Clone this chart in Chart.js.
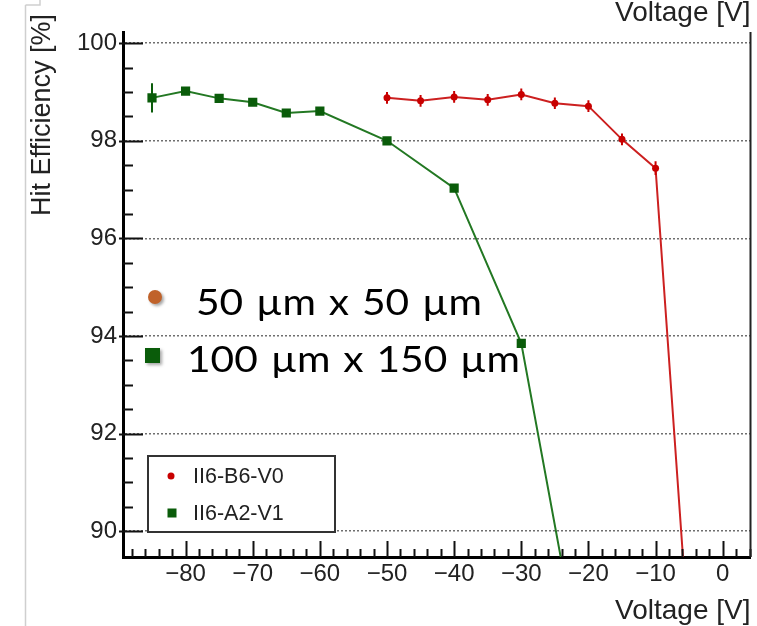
<!DOCTYPE html>
<html>
<head>
<meta charset="utf-8">
<title>Hit Efficiency vs Voltage</title>
<script src="https://cdn.jsdelivr.net/npm/chart.js@4.4.1/dist/chart.umd.min.js"></script>
<style>
    html, body { margin: 0; padding: 0; background: #fff; }
    #chart { display: block; }
</style>
</head>
<body>
<canvas id="chart" width="757" height="626"></canvas>
<script>
// Hit efficiency vs bias voltage, two sensors

const redVoltage = [-50, -45, -40, -35, -30, -25, -20, -15, -10, -5];
const redEfficiency = [98.88, 98.82, 98.90, 98.84, 98.95, 98.77, 98.71, 98.03, 97.44, 87.68];
const redError = [0.12, 0.12, 0.12, 0.12, 0.12, 0.12, 0.12, 0.12, 0.14, 0.12];

const greenVoltage = [-85, -80, -75, -70, -65, -60, -50, -40, -30, -20];
const greenEfficiency = [98.88, 99.02, 98.87, 98.79, 98.57, 98.61, 98.00, 97.03, 93.85, 86.39];
const greenError = [0.30, 0.05, 0.05, 0.05, 0.05, 0.05, 0.05, 0.08, 0.05, 0.05];

const xTicks = [-80, -70, -60, -50, -40, -30, -20, -10, 0];
const yTicks = [90, 92, 94, 96, 98, 100];

const legendLabels = ['II6-B6-V0', 'II6-A2-V1'];
const pitchLabels = ['50 µm x 50 µm', '100 µm x 150 µm'];
const xTitle = 'Voltage [V]';
const yTitle = 'Hit Efficiency [%]';

const RED = '#c80000';
const RED_LINE = '#cc2020';
const GREEN = '#0a5c0a';
const GREEN_LINE = '#237823';
const ORANGE = '#c0622a';
const TEXT = '#222';
const ROOT_FONT = '"Liberation Sans", Arial, Helvetica, sans-serif';

function toPoints(xs, ys) {
    return xs.map((x, i) => ({ x: x, y: ys[i] }));
}

function minusSign(v) {
    return String(v).replace('-', '\u2212');
}

// error bars, inner axis ticks, frame, legend box and the pasted pitch labels
const decorations = {
    id: 'decorations',
    beforeDraw(chart) {
        const ctx = chart.ctx;
        ctx.save();
        ctx.fillStyle = '#fff';
        ctx.fillRect(0, 0, chart.width, chart.height);
        // edge of the pasted image
        ctx.strokeStyle = '#cfcfcf';
        ctx.lineWidth = 1.5;
        ctx.beginPath();
        ctx.moveTo(25.5, 5);
        ctx.lineTo(25.5, chart.height);
        ctx.moveTo(25.5, 5);
        ctx.lineTo(40, 5);
        ctx.lineTo(40, 0);
        ctx.stroke();
        ctx.restore();
    },
    afterDatasetsDraw(chart) {
        const ctx = chart.ctx;
        const area = chart.chartArea;
        const xs = chart.scales.x, ys = chart.scales.y;
        ctx.save();
        ctx.beginPath();
        ctx.rect(area.left, area.top, area.right - area.left, area.bottom - area.top);
        ctx.clip();
        chart.data.datasets.forEach(ds => {
            ctx.strokeStyle = ds.pointBackgroundColor;
            ctx.lineWidth = 2;
            ds.data.forEach((p, i) => {
                const px = xs.getPixelForValue(p.x);
                ctx.beginPath();
                ctx.moveTo(px, ys.getPixelForValue(p.y - ds.errors[i]));
                ctx.lineTo(px, ys.getPixelForValue(p.y + ds.errors[i]));
                ctx.stroke();
            });
        });
        ctx.restore();
    },
    afterDraw(chart) {
        const ctx = chart.ctx;
        const area = chart.chartArea;
        const xs = chart.scales.x, ys = chart.scales.y;
        ctx.save();

        // ticks drawn inward, ROOT style
        ctx.strokeStyle = '#111';
        ctx.lineWidth = 2;
        ctx.beginPath();
        for (let v = 90; v <= 100; v += 0.5) {
            const py = Math.round(ys.getPixelForValue(v)) + 0.5;
            const major = yTicks.includes(v);
            ctx.moveTo(area.left - (major ? 4 : 0), py);
            ctx.lineTo(area.left + (major ? 20 : 10), py);
        }
        for (let v = -88; v <= 4; v += 2) {
            const px = Math.round(xs.getPixelForValue(v)) + 0.5;
            const len = xTicks.includes(v) ? 16 : 8;
            ctx.moveTo(px, area.bottom);
            ctx.lineTo(px, area.bottom - len);
        }
        ctx.stroke();

        // right side of the frame
        ctx.strokeStyle = '#222';
        ctx.beginPath();
        ctx.moveTo(area.right, area.top);
        ctx.lineTo(area.right, area.bottom);
        ctx.stroke();

        // y axis title
        ctx.save();
        ctx.translate(50, 216);
        ctx.rotate(-Math.PI / 2);
        ctx.font = '27px ' + ROOT_FONT;
        ctx.fillStyle = TEXT;
        ctx.textAlign = 'left';
        ctx.textBaseline = 'alphabetic';
        ctx.fillText(yTitle, 0, 0);
        ctx.restore();

        // legend box
        ctx.fillStyle = '#fff';
        ctx.fillRect(148, 456, 187, 76);
        ctx.strokeStyle = '#333';
        ctx.lineWidth = 2;
        ctx.strokeRect(148, 456, 187, 76);
        ctx.fillStyle = RED;
        ctx.beginPath();
        ctx.arc(171, 476, 3.5, 0, Math.PI * 2);
        ctx.fill();
        ctx.fillStyle = GREEN;
        ctx.fillRect(167.5, 508.5, 9, 9);
        ctx.font = '21.5px ' + ROOT_FONT;
        ctx.fillStyle = TEXT;
        ctx.textBaseline = 'middle';
        ctx.textAlign = 'left';
        ctx.fillText(legendLabels[0], 193, 477);
        ctx.fillText(legendLabels[1], 193, 514);

        // pitch labels pasted on top
        ctx.save();
        ctx.shadowColor = 'rgba(0,0,0,0.35)';
        ctx.shadowBlur = 3;
        ctx.shadowOffsetX = 2;
        ctx.shadowOffsetY = 2;
        ctx.fillStyle = ORANGE;
        ctx.beginPath();
        ctx.arc(155, 297, 7, 0, Math.PI * 2);
        ctx.fill();
        ctx.fillStyle = GREEN;
        ctx.fillRect(145, 348, 15, 15);
        ctx.restore();

        // slightly widened glyphs, remaining width taken up by the word gaps
        const pitchPos = [[196, 315, 286], [187, 372, 333]];
        const widen = 1.1;
        ctx.font = '37px Lato, "Open Sans", sans-serif';
        ctx.fillStyle = '#000';
        ctx.textBaseline = 'alphabetic';
        pitchLabels.forEach((label, i) => {
            const [x, y, w] = pitchPos[i];
            const gaps = label.split(' ').length - 1;
            ctx.wordSpacing = '0px';
            const natural = ctx.measureText(label).width * widen;
            const extra = Math.max(0, (w - natural) / gaps / widen);
            ctx.save();
            ctx.translate(x, y);
            ctx.scale(widen, 1);
            ctx.wordSpacing = extra + 'px';
            ctx.fillText(label, 0, 0);
            ctx.restore();
        });
        ctx.wordSpacing = '0px';

        ctx.restore();
    }
};

const tickFont = { family: ROOT_FONT, size: 24, lineHeight: 1.2 };
const titleFont = { family: ROOT_FONT, size: 28, lineHeight: 1 };

const chart = new Chart(document.getElementById('chart'), {
    type: 'scatter',
    data: {
        datasets: [
            {
                label: legendLabels[0],
                data: toPoints(redVoltage, redEfficiency),
                errors: redError,
                showLine: true,
                borderColor: RED_LINE,
                borderWidth: 2,
                pointStyle: 'circle',
                pointRadius: 3.5,
                pointBackgroundColor: RED,
                pointBorderColor: RED,
                pointBorderWidth: 0
            },
            {
                label: legendLabels[1],
                data: toPoints(greenVoltage, greenEfficiency),
                errors: greenError,
                showLine: true,
                borderColor: GREEN_LINE,
                borderWidth: 2,
                pointStyle: 'rect',
                pointRadius: 6.5,
                pointBackgroundColor: GREEN,
                pointBorderColor: GREEN,
                pointBorderWidth: 0
            }
        ]
    },
    options: {
        responsive: false,
        animation: false,
        layout: { padding: { left: 0, right: 2, top: 0, bottom: 0 } },
        plugins: {
            legend: { display: false },
            tooltip: { enabled: false }
        },
        scales: {
            x: {
                type: 'linear',
                position: 'bottom',
                min: -89.32,
                max: 4.14,
                afterBuildTicks: s => { s.ticks = xTicks.map(v => ({ value: v })); },
                afterFit: s => { s.height = 69; },
                grid: { display: false, drawTicks: false },
                border: { display: true, color: '#000', width: 3 },
                ticks: {
                    font: tickFont,
                    color: TEXT,
                    padding: 3,
                    maxRotation: 0,
                    autoSkip: false,
                    callback: v => minusSign(v)
                },
                title: {
                    display: true,
                    text: xTitle,
                    align: 'end',
                    color: TEXT,
                    font: titleFont,
                    padding: { top: 0, bottom: 1 }
                }
            },
            xTop: {
                type: 'linear',
                position: 'top',
                min: -89.32,
                max: 4.14,
                afterFit: s => { s.height = 32; },
                grid: { display: false, drawTicks: false },
                border: { display: false },
                ticks: { display: false },
                title: {
                    display: true,
                    text: xTitle,
                    align: 'end',
                    color: TEXT,
                    font: titleFont,
                    padding: { top: -1, bottom: 0 }
                }
            },
            y: {
                type: 'linear',
                position: 'left',
                min: 89.47,
                max: 100.23,
                afterBuildTicks: s => { s.ticks = yTicks.map(v => ({ value: v })); },
                afterFit: s => { s.width = 123; },
                grid: { display: true, drawTicks: false, color: '#6f6f6f', lineWidth: 1.5 },
                border: { display: true, color: '#000', width: 3, dash: [2, 2] },
                ticks: {
                    font: tickFont,
                    color: TEXT,
                    padding: 6,
                    callback: v => String(v)
                }
            }
        }
    },
    plugins: [decorations]
});
</script>
</body>
</html>
